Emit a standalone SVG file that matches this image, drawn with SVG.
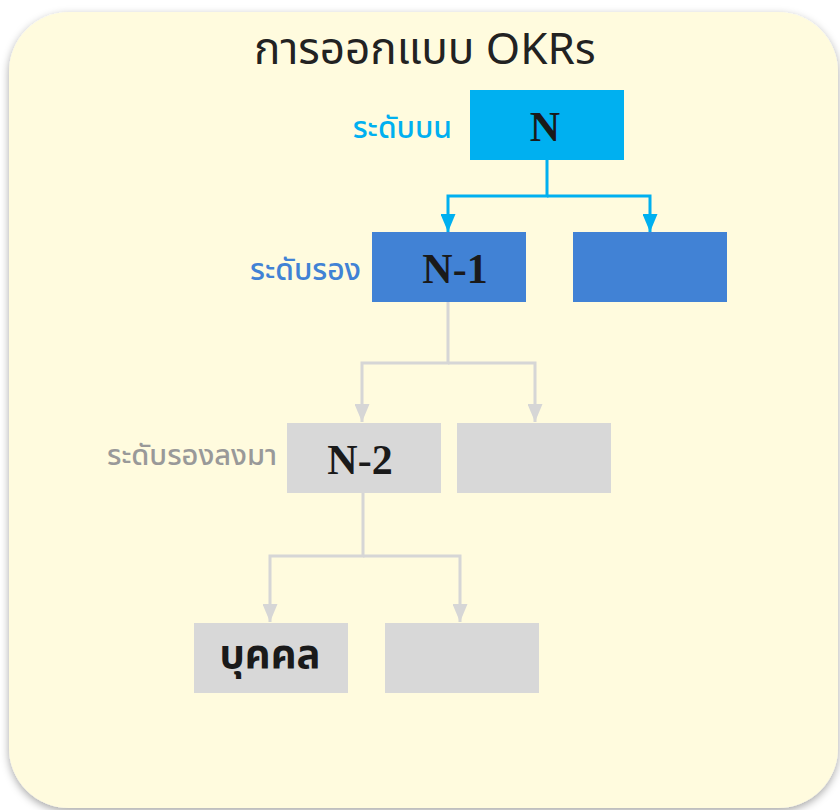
<svg xmlns="http://www.w3.org/2000/svg" width="840" height="810" viewBox="0 0 840 810">
<defs>
<filter id="sh" x="-10%" y="-10%" width="120%" height="120%">
<feDropShadow dx="0" dy="3" stdDeviation="4" flood-color="#000" flood-opacity="0.35"/>
</filter>
<marker id="ab" viewBox="0 0 10 10" refX="10" refY="5" markerWidth="6" markerHeight="5" orient="auto" markerUnits="strokeWidth" preserveAspectRatio="none"><path d="M0,0 L10,5 L0,10 z" fill="#00B0F0"/></marker>
<marker id="ag" viewBox="0 0 10 10" refX="10" refY="5" markerWidth="6" markerHeight="5" orient="auto" markerUnits="strokeWidth" preserveAspectRatio="none"><path d="M0,0 L10,5 L0,10 z" fill="#D6D6D6"/></marker>
</defs>
<style>
.thai{font-family:"Noto Sans Thai","Noto Sans","DejaVu Sans",sans-serif}
.lbl{font-family:"Liberation Serif","Times New Roman",serif;font-weight:bold;font-size:42px;fill:#1a1a1a;text-anchor:middle}
.blue1{fill:#00B0F0}
.blue2{fill:#4182D5}
.gray{fill:#D8D8D8}
.cb{fill:none;stroke:#00B0F0;stroke-width:3}
.cg{fill:none;stroke:#D6D6D6;stroke-width:3}
</style>
<rect x="0" y="0" width="840" height="810" fill="#ffffff"/>
<rect id="panel" x="9" y="12" width="829" height="796" rx="60" ry="60" fill="#FFFBDE" filter="url(#sh)"/>
<text class="thai" x="425" y="64" font-size="44" fill="#222" text-anchor="middle">การออกแบบ OKRs</text>

<g id="connectors">
<path class="cb" d="M547,160 V196 H448 V232" marker-end="url(#ab)"/>
<path class="cb" d="M547,196 H650 V232" marker-end="url(#ab)"/>
<path class="cg" d="M448,302 V363 H362 V422" marker-end="url(#ag)"/>
<path class="cg" d="M448,363 H535 V422" marker-end="url(#ag)"/>
<path class="cg" d="M363,493 V556 H270 V622" marker-end="url(#ag)"/>
<path class="cg" d="M363,556 H460 V622" marker-end="url(#ag)"/>
</g>

<g id="n0"><rect class="blue1" x="470" y="90" width="154" height="70"/><text class="lbl" x="545" y="141">N</text></g>
<g id="n1"><rect class="blue2" x="372" y="232" width="154" height="70"/><text class="lbl" x="455" y="283">N-1</text></g>
<g id="n1b"><rect class="blue2" x="573" y="232" width="154" height="70"/></g>
<g id="n2"><rect class="gray" x="287" y="423" width="154" height="70"/><text class="lbl" x="360" y="474">N-2</text></g>
<g id="n2b"><rect class="gray" x="457" y="423" width="154" height="70"/></g>
<g id="n3"><rect class="gray" x="194" y="623" width="154" height="70"/><text class="thai" x="270" y="668" font-size="40" font-weight="bold" fill="#1a1a1a" text-anchor="middle">บุคคล</text></g>
<g id="n3b"><rect class="gray" x="385" y="623" width="154" height="70"/></g>

<g id="labels">
<text class="thai" x="452" y="138" font-size="30" font-weight="500" fill="#00B0F0" text-anchor="end">ระดับบน</text>
<text class="thai" x="361" y="280" font-size="30" font-weight="500" fill="#4182D5" text-anchor="end">ระดับรอง</text>
<text class="thai" x="277" y="465" font-size="29" font-weight="500" fill="#999999" text-anchor="end">ระดับรองลงมา</text>
</g>
</svg>
